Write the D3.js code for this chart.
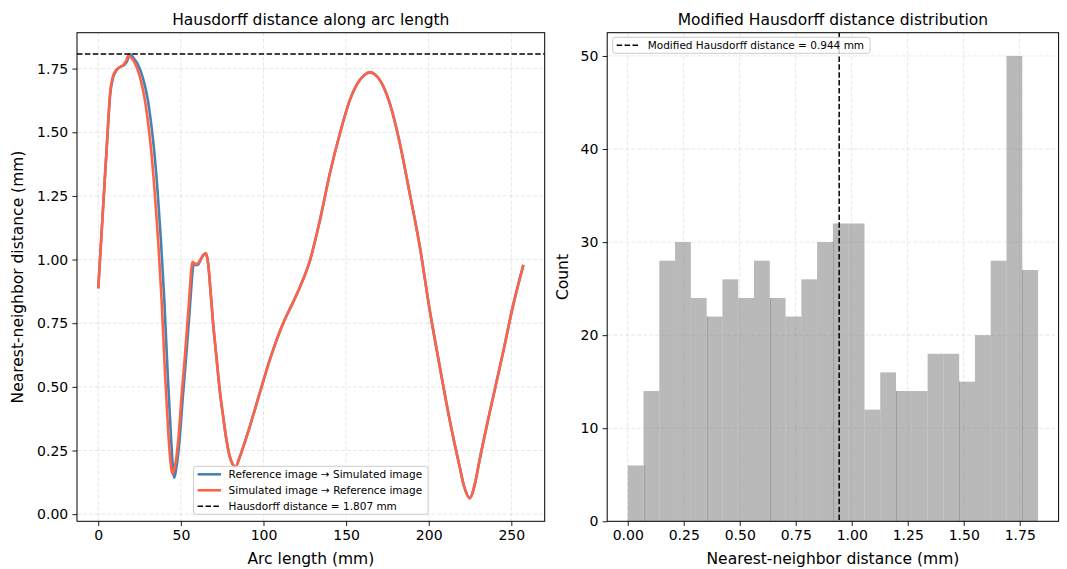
<!DOCTYPE html>
<html>
<head>
<meta charset="utf-8">
<script src="https://cdn.jsdelivr.net/npm/d3@7"></script>
<style>
  body { margin: 0; background: #fff; }
  svg { font-family: "DejaVu Sans", sans-serif; }
</style>
</head>
<body>
<svg id="fig" width="1067" height="569"></svg>
<script>
// ---- Nearest-neighbour distance along the contour (arc length in mm) ----
// Simulated image -> Reference image
const arcSimToRef = [0, 2.7, 5.4, 7.1, 8.5, 10.1, 13.1, 15.1, 16.6, 18.2, 20.2, 22.2, 24.2, 26.2, 28.2,
  30.2, 32.2, 34.2, 36.2, 38.3, 40.4, 42.4, 43.8, 44.8, 46.4, 48.4, 50.4, 52.4, 54.4, 55.4, 56.5,
  57.0, 58.5, 59.9, 61.4, 63.6, 65.1, 65.8, 66.5, 67.9, 69.5, 71.5, 73.5, 75.6, 77.6, 79.6, 81.6,
  83.0, 85.7, 88.8, 91.7, 97.7, 103.8, 111.9, 117.0, 122.2, 128.2, 134.2, 140.2, 146.3, 152.3,
  158.3, 161.5, 164.4, 167.5, 170.4, 176.4, 182.5, 188.5, 194.6, 200.6, 206.7, 212.7, 218.7,
  221.6, 224.8, 228.0, 230.8, 236.8, 244.9, 250.9, 257.3];
const distSimToRef = [0.887, 1.18, 1.47, 1.653, 1.71, 1.738, 1.756, 1.764, 1.777, 1.800, 1.791, 1.771,
  1.738, 1.692, 1.627, 1.535, 1.417, 1.260, 1.077, 0.845, 0.553, 0.318, 0.200, 0.158, 0.187, 0.291,
  0.462, 0.619, 0.789, 0.881, 0.972, 0.990, 0.983, 0.983, 0.995, 1.018, 1.025, 1.011, 0.985, 0.881,
  0.750, 0.619, 0.488, 0.383, 0.291, 0.226, 0.193, 0.186, 0.226, 0.285, 0.344, 0.475, 0.606, 0.750,
  0.820, 0.894, 0.998, 1.156, 1.339, 1.496, 1.627, 1.705, 1.727, 1.735, 1.727, 1.705, 1.614, 1.457,
  1.260, 1.051, 0.802, 0.579, 0.370, 0.187, 0.105, 0.063, 0.120, 0.213, 0.396, 0.632, 0.815, 0.979];

// Reference image -> Simulated image
const arcRefToSim = [0, 2.7, 5.4, 7.3, 8.8, 10.5, 13.6, 15.7, 17.3, 19.2, 21.4, 23.6, 25.8, 27.9, 30.0,
  32.0, 34.0, 36.0, 37.9, 39.9, 42.0, 43.9, 45.0, 46.0, 47.2, 49.2, 51.2, 53.2, 55.2, 56.2, 57.3,
  57.9, 59.2, 60.4, 61.7, 63.6, 65.1, 65.8, 66.5, 67.9, 69.5, 71.5, 73.5, 75.6, 77.6, 79.6, 81.6,
  83.0, 85.7, 88.8, 91.7, 97.7, 103.8, 111.9, 117.0, 122.2, 128.2, 134.2, 140.2, 146.3, 152.3,
  158.3, 161.5, 164.4, 167.5, 170.4, 176.4, 182.5, 188.5, 194.6, 200.6, 206.7, 212.7, 218.7,
  221.6, 224.8, 228.0, 230.8, 236.8, 244.9, 250.9, 257.3];
const distRefToSim = [0.887, 1.18, 1.47, 1.653, 1.71, 1.738, 1.758, 1.764, 1.777, 1.807, 1.791, 1.771,
  1.738, 1.692, 1.627, 1.535, 1.417, 1.260, 1.077, 0.850, 0.553, 0.318, 0.200, 0.143, 0.180, 0.291,
  0.462, 0.619, 0.789, 0.881, 0.968, 0.985, 0.978, 0.980, 0.995, 1.018, 1.025, 1.011, 0.985, 0.881,
  0.750, 0.619, 0.488, 0.383, 0.291, 0.226, 0.193, 0.186, 0.226, 0.285, 0.344, 0.475, 0.606, 0.750,
  0.820, 0.894, 0.998, 1.156, 1.339, 1.496, 1.627, 1.705, 1.727, 1.735, 1.727, 1.705, 1.614, 1.457,
  1.260, 1.051, 0.802, 0.579, 0.370, 0.187, 0.105, 0.063, 0.120, 0.213, 0.396, 0.632, 0.815, 0.979];

const hausdorff = 1.807;
const modifiedHausdorff = 0.944;

// ---- Histogram of all nearest-neighbour distances ----
const histMin = 0;
const histMax = 1.832;
const histCounts = [6, 14, 28, 30, 24, 22, 26, 24, 28, 24, 22, 26, 30, 32, 32, 12, 16, 14, 14, 18, 18, 15, 20, 28, 50, 27];

// ---- Tick values ----
const arcTicks = [0, 50, 100, 150, 200, 250];
const distTicks = [0, 0.25, 0.5, 0.75, 1.0, 1.25, 1.5, 1.75];
const histXTicks = [0, 0.25, 0.5, 0.75, 1.0, 1.25, 1.5, 1.75];
const histYTicks = [0, 10, 20, 30, 40, 50];

// ---- Layout ----
const svg = d3.select("#fig");
const left = { x0: 77, x1: 544.7, y0: 32.7, y1: 521.3 };
const right = { x0: 607.2, x1: 1058.6, y0: 32.7, y1: 521.3 };
const TICK_FS = 14, LABEL_FS = 15.5, TITLE_FS = 15.5, LEGEND_FS = 10.5;
const BLUE = "#4682b4", RED = "#ff6347";

const xArc = d3.scaleLinear().domain([-12.87, 270.2]).range([left.x0, left.x1]);
const yDist = d3.scaleLinear().domain([-0.028, 1.891]).range([left.y1, left.y0]);
const xHist = d3.scaleLinear().domain([-0.0916, 1.9236]).range([right.x0, right.x1]);
const yHist = d3.scaleLinear().domain([0, 52.5]).range([right.y1, right.y0]);

const defs = svg.append("defs");
function clip(id, b) {
  defs.append("clipPath").attr("id", id).append("rect")
    .attr("x", b.x0).attr("y", b.y0).attr("width", b.x1 - b.x0).attr("height", b.y1 - b.y0);
}
clip("clipL", left);
clip("clipR", right);

function grid(b, xs, xt, ys, yt) {
  const g = svg.append("g").attr("stroke", "#000").attr("stroke-opacity", 0.12)
    .attr("stroke-width", 0.8).attr("stroke-dasharray", "4,2");
  g.selectAll(".gx").data(xt).join("line")
    .attr("x1", d => xs(d)).attr("x2", d => xs(d)).attr("y1", b.y0).attr("y2", b.y1);
  g.selectAll(".gy").data(yt).join("line")
    .attr("x1", b.x0).attr("x2", b.x1).attr("y1", d => ys(d)).attr("y2", d => ys(d));
}

function axes(b, xs, xt, xf, ys, yt, yf) {
  const ax = svg.append("g").attr("transform", `translate(0,${b.y1})`)
    .call(d3.axisBottom(xs).tickValues(xt).tickFormat(xf).tickSize(4.6).tickPadding(4.2));
  const ay = svg.append("g").attr("transform", `translate(${b.x0},0)`)
    .call(d3.axisLeft(ys).tickValues(yt).tickFormat(yf).tickSize(4.6).tickPadding(4.2));
  [ax, ay].forEach(a => {
    a.select(".domain").remove();
    a.selectAll("text").attr("font-size", TICK_FS).attr("fill", "#000")
      .attr("font-family", "DejaVu Sans, sans-serif");
    a.selectAll("line").attr("stroke", "#000").attr("stroke-width", 0.9);
  });
  svg.append("rect").attr("x", b.x0).attr("y", b.y0)
    .attr("width", b.x1 - b.x0).attr("height", b.y1 - b.y0)
    .attr("fill", "none").attr("stroke", "#000").attr("stroke-width", 1);
}

function labels(b, title, xl, yl, ylx) {
  const cx = (b.x0 + b.x1) / 2;
  svg.append("text").attr("x", cx).attr("y", 25).attr("text-anchor", "middle")
    .attr("font-size", TITLE_FS).text(title);
  svg.append("text").attr("x", cx).attr("y", 563.5).attr("text-anchor", "middle")
    .attr("font-size", LABEL_FS).text(xl);
  const cy = (b.y0 + b.y1) / 2;
  svg.append("text").attr("transform", `translate(${ylx},${cy}) rotate(-90)`)
    .attr("text-anchor", "middle").attr("dominant-baseline", "central")
    .attr("font-size", LABEL_FS).text(yl);
}

// ---- Left panel: distance along arc length ----
grid(left, xArc, arcTicks, yDist, distTicks);

const line = d3.line().x(d => xArc(d[0])).y(d => yDist(d[1])).curve(d3.curveMonotoneX);
const gl = svg.append("g").attr("clip-path", "url(#clipL)");
gl.append("path").datum(d3.zip(arcRefToSim, distRefToSim)).attr("d", line)
  .attr("fill", "none").attr("stroke", BLUE).attr("stroke-width", 2.6).attr("stroke-linejoin", "round");
gl.append("path").datum(d3.zip(arcSimToRef, distSimToRef)).attr("d", line)
  .attr("fill", "none").attr("stroke", RED).attr("stroke-width", 2.6).attr("stroke-linejoin", "round");
gl.append("line").attr("x1", left.x0).attr("x2", left.x1)
  .attr("y1", yDist(hausdorff)).attr("y2", yDist(hausdorff))
  .attr("stroke", "#000").attr("stroke-width", 1.5).attr("stroke-dasharray", "5.5,2.4");

axes(left, xArc, arcTicks, d3.format("d"), yDist, distTicks, d3.format(".2f"));
labels(left, "Hausdorff distance along arc length", "Arc length (mm)", "Nearest-neighbor distance (mm)", 18);

// ---- Right panel: histogram ----
grid(right, xHist, histXTicks, yHist, histYTicks);

const nBins = histCounts.length;
const binW = (histMax - histMin) / nBins;
const bins = histCounts.map((c, i) => ({ x0: histMin + i * binW, x1: histMin + (i + 1) * binW, c }));
const gh = svg.append("g").attr("clip-path", "url(#clipR)");
gh.selectAll("rect.bar").data(bins).join("rect").attr("class", "bar")
  .attr("x", d => xHist(d.x0)).attr("width", d => xHist(d.x1) - xHist(d.x0))
  .attr("y", d => yHist(d.c)).attr("height", d => yHist(0) - yHist(d.c))
  .attr("fill", "#808080").attr("fill-opacity", 0.55);
// faint seams where neighbouring bars overlap
gh.selectAll("line.seam").data(bins.slice(1).filter((d, i) => i % 4 === 0)).join("line")
  .attr("class", "seam")
  .attr("x1", d => Math.round(xHist(d.x0)) + 0.5).attr("x2", d => Math.round(xHist(d.x0)) + 0.5)
  .attr("y1", yHist(0))
  .attr("y2", d => { const i = bins.indexOf(d); return yHist(Math.min(d.c, bins[i - 1].c)); })
  .attr("stroke", "#808080").attr("stroke-opacity", 0.5).attr("stroke-width", 1);
gh.append("line").attr("x1", xHist(modifiedHausdorff)).attr("x2", xHist(modifiedHausdorff))
  .attr("y1", right.y0).attr("y2", right.y1)
  .attr("stroke", "#000").attr("stroke-width", 1.5).attr("stroke-dasharray", "5.5,2.4");

axes(right, xHist, histXTicks, d3.format(".2f"), yHist, histYTicks, d3.format("d"));
labels(right, "Modified Hausdorff distance distribution", "Nearest-neighbor distance (mm)", "Count", 563);

// ---- Legends ----
function legend(entries, anchor) {
  const g = svg.append("g");
  const box = g.append("rect").attr("rx", 2.5).attr("ry", 2.5)
    .attr("fill", "#fff").attr("fill-opacity", 0.8).attr("stroke", "#ccc").attr("stroke-width", 1);
  const rowH = 16, padX = 4, handle = 23.4, gap = 7.6, padTop = 8;
  const texts = entries.map((e, i) => {
    const y = padTop + i * rowH;
    g.append("line").attr("x1", padX).attr("x2", padX + handle).attr("y1", y).attr("y2", y)
      .attr("stroke", e.color).attr("stroke-width", e.dash ? 1.5 : 2.6)
      .attr("stroke-dasharray", e.dash ? "5.5,2.4" : null);
    return g.append("text").attr("x", padX + handle + gap).attr("y", y)
      .attr("dominant-baseline", "central").attr("font-size", LEGEND_FS).text(e.label);
  });
  const tw = d3.max(texts, t => t.node().getComputedTextLength());
  const w = padX + handle + gap + tw + 6;
  const h = padTop * 2 + (entries.length - 1) * rowH;
  box.attr("x", 0).attr("y", 0).attr("width", w).attr("height", h);
  const pos = anchor(w, h);
  g.attr("transform", `translate(${pos[0]},${pos[1]})`);
}

legend([
  { label: "Reference image \u2192 Simulated image", color: BLUE },
  { label: "Simulated image \u2192 Reference image", color: RED },
  { label: `Hausdorff distance = ${hausdorff.toFixed(3)} mm`, color: "#000", dash: true }
], (w, h) => [(left.x0 + left.x1) / 2 - w / 2, left.y1 - 7 - h]);

legend([
  { label: `Modified Hausdorff distance = ${modifiedHausdorff.toFixed(3)} mm`, color: "#000", dash: true }
], (w, h) => [right.x0 + 5.5, right.y0 + 4.6]);
</script>
</body>
</html>
